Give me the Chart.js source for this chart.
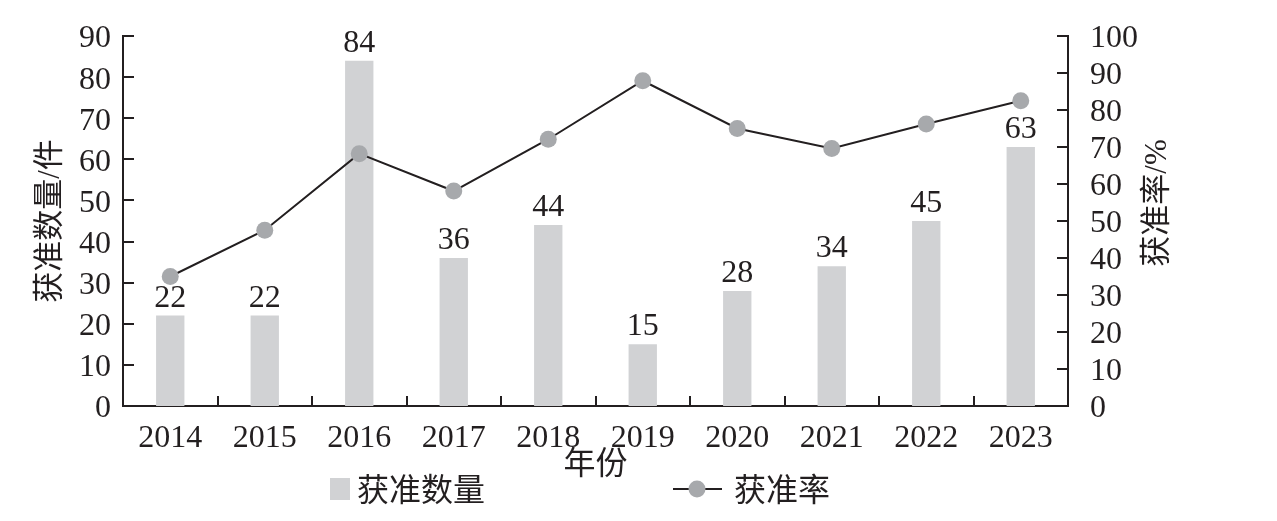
<!DOCTYPE html>
<html><head><meta charset="utf-8">
<script src="https://cdn.jsdelivr.net/npm/chart.js@4/dist/chart.umd.min.js"></script>
<style>html,body{margin:0;padding:0;background:#fff;}canvas{display:block;}</style>
</head><body>
<canvas id="c" width="1277" height="521"></canvas>
<script>
const years = ['2014','2015','2016','2017','2018','2019','2020','2021','2022','2023'];
const approvedCount = [22, 22, 84, 36, 44, 15, 28, 34, 45, 63];
const approvalRate = [35, 47.5, 68.2, 58.1, 72.1, 87.9, 75, 69.6, 76.2, 82.5];
const countLabel = '获准数量';
const rateLabel = '获准率';
const leftTitle = '获准数量/件';
const rightTitle = '获准率/%';
const xTitle = '年份';

const INK = '#231f20';
const BAR = '#d1d2d4';
const DOT = '#a7a9ac';
const FONT = "'Liberation Serif','Noto Sans CJK SC',serif";

const extras = {
  id: 'extras',
  afterDraw(chart) {
    const ctx = chart.ctx;
    const ca = chart.chartArea;
    const x = chart.scales.x, y = chart.scales.y, y1 = chart.scales.y1;
    ctx.save();
    ctx.strokeStyle = INK; ctx.lineWidth = 2;
    // inward tick marks
    y.ticks.forEach(t => {
      const py = Math.round(y.getPixelForValue(t.value));
      ctx.beginPath(); ctx.moveTo(ca.left, py); ctx.lineTo(ca.left + 11, py); ctx.stroke();
    });
    y1.ticks.forEach(t => {
      const py = Math.round(y1.getPixelForValue(t.value));
      ctx.beginPath(); ctx.moveTo(ca.right, py); ctx.lineTo(ca.right - 11, py); ctx.stroke();
    });
    for (let i = 1; i < years.length; i++) {
      const px = Math.round((x.getPixelForValue(i - 1) + x.getPixelForValue(i)) / 2);
      ctx.beginPath(); ctx.moveTo(px, ca.bottom); ctx.lineTo(px, ca.bottom - 10); ctx.stroke();
    }
    // right axis title, reading bottom to top
    ctx.fillStyle = INK;
    ctx.font = "31px " + FONT;
    ctx.textAlign = 'center'; ctx.textBaseline = 'middle';
    ctx.save();
    ctx.translate(1158, 203);
    ctx.rotate(-Math.PI / 2);
    ctx.fillText(rightTitle, 0, 0);
    ctx.restore();
    // legend
    const dsBar = chart.data.datasets[0], dsLine = chart.data.datasets[1];
    const ly = 489;
    ctx.fillStyle = dsBar.backgroundColor;
    ctx.fillRect(330, ly - 11, 20, 22);
    ctx.fillStyle = INK; ctx.textAlign = 'left';
    ctx.font = "32px 'Noto Sans CJK SC',sans-serif";
    ctx.fillText(dsBar.label, 357, ly);
    ctx.strokeStyle = dsLine.borderColor; ctx.lineWidth = 2;
    ctx.beginPath(); ctx.moveTo(673, ly); ctx.lineTo(722, ly); ctx.stroke();
    ctx.fillStyle = dsLine.pointBackgroundColor;
    ctx.beginPath(); ctx.arc(697, ly, 8.5, 0, Math.PI * 2); ctx.fill();
    ctx.fillStyle = INK;
    ctx.fillText(dsLine.label, 734, ly);
    ctx.restore();
  },
  afterDatasetsDraw(chart) {
    const ctx = chart.ctx;
    const meta = chart.getDatasetMeta(0);
    ctx.save();
    ctx.fillStyle = INK;
    ctx.font = "32px " + FONT;
    ctx.textAlign = 'center'; ctx.textBaseline = 'alphabetic';
    meta.data.forEach((bar, i) => {
      ctx.fillText(String(approvedCount[i]), bar.x, bar.y - 9);
    });
    ctx.restore();
  }
};

function fixVertical(s, w) {
  s.width = w;
  s.paddingTop = 36;
  s.paddingBottom = 0;
}

new Chart(document.getElementById('c'), {
  data: {
    labels: years,
    datasets: [
      {
        type: 'bar', label: countLabel, data: approvedCount, yAxisID: 'y',
        backgroundColor: BAR, categoryPercentage: 1, barPercentage: 0.3, order: 2
      },
      {
        type: 'line', label: rateLabel, data: approvalRate, yAxisID: 'y1',
        borderColor: INK, borderWidth: 2, pointRadius: 8.5, pointHoverRadius: 8.5,
        pointBackgroundColor: DOT, pointBorderWidth: 0, backgroundColor: DOT,
        tension: 0, order: 1
      }
    ]
  },
  options: {
    responsive: false, animation: false,
    layout: { padding: 0 },
    plugins: { legend: { display: false }, tooltip: { enabled: false } },
    scales: {
      x: {
        offset: true,
        grid: { display: false, drawTicks: false },
        border: { display: true, color: INK, width: 2 },
        ticks: { color: INK, font: { family: FONT, size: 32 }, padding: 13, maxRotation: 0, autoSkip: false },
        title: { display: true, text: xTitle, color: INK, font: { family: "'Noto Sans CJK SC'", size: 32 }, padding: { top: 0, bottom: 40 } },
        afterFit(s) { s.height = 115; }
      },
      y: {
        position: 'left', min: 0, max: 90,
        grid: { display: false, drawTicks: false },
        border: { display: true, color: INK, width: 2 },
        ticks: { stepSize: 10, color: INK, font: { family: FONT, size: 32 }, padding: 12, autoSkip: false, labelOffset: 3 },
        title: { display: true, text: leftTitle, color: INK, font: { family: FONT, size: 31 }, padding: { top: 32, bottom: 0 } },
        afterFit(s) { fixVertical(s, 123); }
      },
      y1: {
        position: 'right', min: 0, max: 100,
        grid: { display: false, drawTicks: false },
        border: { display: true, color: INK, width: 2 },
        ticks: { stepSize: 10, color: INK, font: { family: FONT, size: 32 }, padding: 22, autoSkip: false, labelOffset: 3 },
        afterFit(s) { fixVertical(s, 209); }
      }
    }
  },
  plugins: [extras]
});
</script>
</body></html>
